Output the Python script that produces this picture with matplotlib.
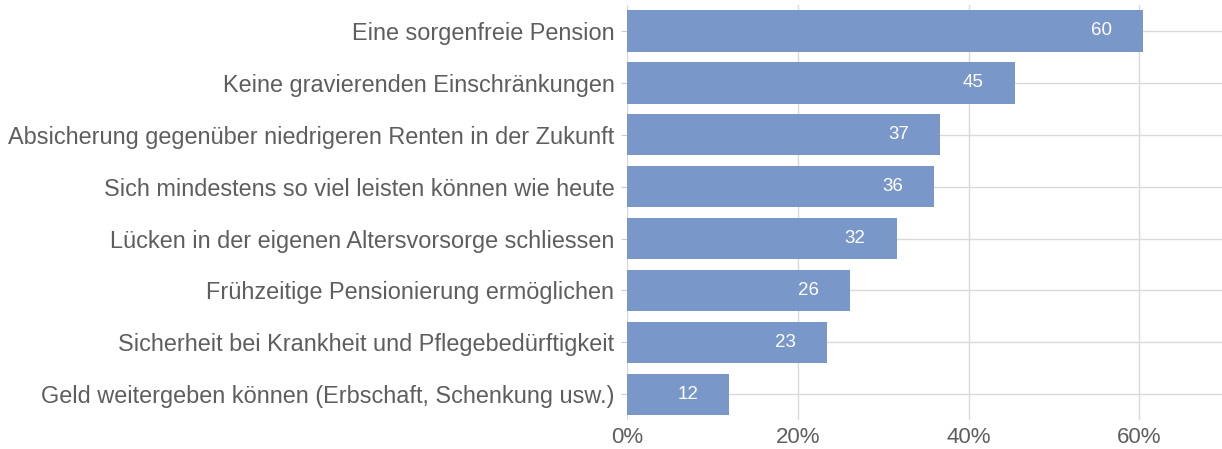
import matplotlib.pyplot as plt
import numpy as np

plt.rcParams['font.family'] = ['Liberation Sans', 'DejaVu Sans']

labels = ['Eine sorgenfreie Pension',
          'Keine gravierenden Einschränkungen',
          'Absicherung gegenüber niedrigeren Renten in der Zukunft',
          'Sich mindestens so viel leisten können wie heute',
          'Lücken in der eigenen Altersvorsorge schliessen',
          'Frühzeitige Pensionierung ermöglichen',
          'Sicherheit bei Krankheit und Pflegebedürftigkeit',
          'Geld weitergeben können (Erbschaft, Schenkung usw.)']
values = [60.4, 45.4, 36.7, 36.0, 31.6, 26.1, 23.4, 12.0]
xticks = [0, 20, 40, 60]

bar_col = '#7a97c9'
grey = '#5e5e5e'

fig = plt.figure(figsize=(12.22, 4.49), dpi=100)
ax = fig.add_axes([0.513, 0.064, 0.49, 0.925])

y = np.arange(len(labels))
ax.barh(y, values, height=0.8, color=bar_col, zorder=2)
for yi, v in zip(y, values):
    ax.annotate('%d' % round(v), (v, yi), xytext=(-30, 0), textcoords='offset points',
                ha='center', va='center', color='white', fontsize=13.5, zorder=3)

ax.set_ylim(len(labels) - 0.5, -0.5)
ax.set_xlim(0, 70.1)
ax.set_yticks(y)
ax.set_yticklabels(labels, fontsize=16.9, color=grey)
ax.set_xticks(xticks)
ax.set_xticklabels(['%d%%' % t for t in xticks], fontsize=16, color=grey)
ax.grid(True, color='#d9d9d9', lw=1, zorder=0)
ax.set_axisbelow(True)
for s in ax.spines.values():
    s.set_visible(False)
ax.tick_params(axis='y', length=4, color='#cccccc', pad=5)
ax.tick_params(axis='x', length=0, pad=5)

plt.savefig('out.png', dpi=100)
